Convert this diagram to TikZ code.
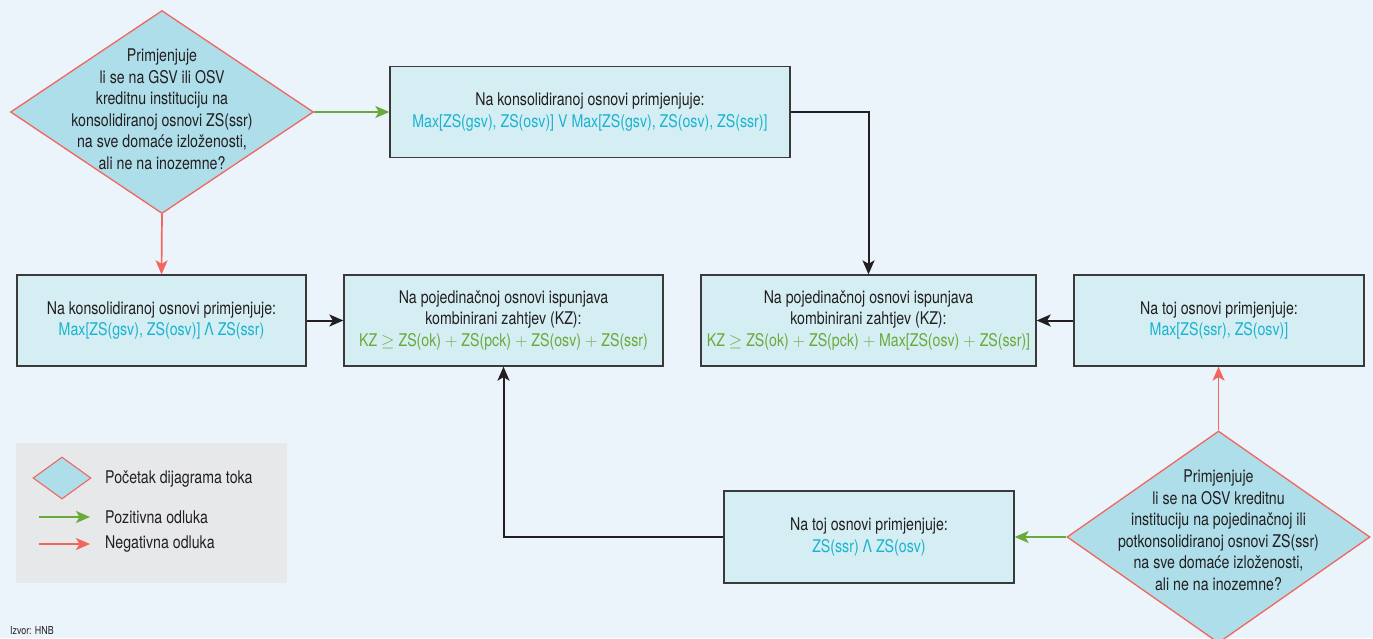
\documentclass[tikz,border=0pt]{standalone}
\usepackage{fontspec}
\setmainfont{TeX Gyre Heros}[FakeStretch=0.81]
\usetikzlibrary{shapes.geometric,arrows.meta}
\definecolor{bgcol}{HTML}{EBF3FB}
\definecolor{boxfill}{HTML}{D4EEF3}
\definecolor{diafill}{HTML}{AEDEEA}
\definecolor{redc}{HTML}{F2665E}
\definecolor{grn}{HTML}{6AAA3A}
\definecolor{cyn}{HTML}{1BB3CF}
\definecolor{blk}{HTML}{231F20}
\definecolor{boxline}{HTML}{3A3A3A}
\definecolor{leggray}{HTML}{E6E8EA}
\begin{document}
\begin{tikzpicture}[x=1pt,y=-1pt,
  every node/.style={font=\fontsize{17.5}{21.5}\selectfont, text=blk},
  box/.style={draw=boxline, line width=1.3pt, fill=boxfill, rectangle, minimum height=91pt, inner sep=0pt, align=center},
  dia/.style={draw=redc, line width=1.3pt, fill=diafill, diamond, inner sep=0pt},
  dtext/.style={align=center, inner sep=0pt},
  blackarr/.style={draw=blk, line width=2pt, -{Stealth[length=14pt,width=12pt,inset=3.5pt]}},
  posarr/.style={draw=grn, line width=1.7pt, -{Stealth[length=14pt,width=12pt,inset=3.5pt]}},
  negarr/.style={draw=redc, line width=1.7pt, -{Stealth[length=14pt,width=12pt,inset=3.5pt]}}
]
\fill[bgcol] (0,0) rectangle (1373,638);
\useasboundingbox (0,0) rectangle (1373,638);

% decision 1
\node[dia, minimum width=303pt, minimum height=203pt] (d1) at (162,112) {};
\node[dtext] (d1t) at (162,109) {Primjenjuje\\li se na GSV ili OSV\\kreditnu instituciju na\\konsolidiranoj osnovi ZS(ssr)\\na sve doma\'ce izlo\v{z}enosti,\\ali ne na inozemne?};

% boxes
\node[box, minimum width=400pt] (bA) at (590,112) {Na konsolidiranoj osnovi primjenjuje:\\\textcolor{cyn}{Max[ZS(gsv), ZS(osv)] V Max[ZS(gsv), ZS(osv), ZS(ssr)]}};
\node[box, minimum width=289pt] (bB) at (161.5,320.5) {Na konsolidiranoj osnovi primjenjuje:\\\textcolor{cyn}{Max[ZS(gsv), ZS(osv)] Λ ZS(ssr)}};
\node[box, minimum width=319pt] (bC) at (503.5,320.5) {Na pojedina\v{c}noj osnovi ispunjava\\kombinirani zahtjev (KZ):\\\textcolor{grn}{KZ $\geq$ ZS(ok) $+$ ZS(pck) $+$ ZS(osv) $+$ ZS(ssr)}};
\node[box, minimum width=335pt] (bD) at (868.5,320.5) {Na pojedina\v{c}noj osnovi ispunjava\\kombinirani zahtjev (KZ):\\\textcolor{grn}{KZ $\geq$ ZS(ok) $+$ ZS(pck) $+$ Max[ZS(osv) $+$ ZS(ssr)]}};
\node[box, minimum width=290pt] (bE) at (1219,320.5) {Na toj osnovi primjenjuje:\\\textcolor{cyn}{Max[ZS(ssr), ZS(osv)]}};
\node[box, minimum width=290pt, minimum height=92pt] (bF) at (869,537) {Na toj osnovi primjenjuje:\\\textcolor{cyn}{ZS(ssr) Λ ZS(osv)}};

% decision 2
\node[dia, minimum width=303pt, minimum height=212pt] (d2) at (1218.5,537) {};
\node[dtext] (d2t) at (1218.5,530) {Primjenjuje\\li se na OSV kreditnu\\instituciju na pojedina\v{c}noj ili\\potkonsolidiranoj osnovi ZS(ssr)\\na sve doma\'ce izlo\v{z}enosti,\\ali ne na inozemne?};

% connectors
\draw[posarr] (d1.east) -- (bA.west);
\draw[negarr] (d1.south) -- (bB.north);
\draw[blackarr] (bA.east) -| (bD.north);
\draw[blackarr] (bB.east) -- (bC.west);
\draw[blackarr] (bE.west) -- (bD.east);
\draw[negarr] (d2.north) -- (d2.north |- bE.south);
\draw[posarr] (d2.west) -- (bF.east);
\draw[blackarr] (bF.west) -| (bC.south);

% legend
\node[fill=leggray, minimum width=271pt, minimum height=140pt, inner sep=0pt] (leg) at (151.5,513) {};
\node[dia, minimum width=58pt, minimum height=42pt, line width=1.1pt] (legd) at (62,478) {};
\node[anchor=west, inner sep=0pt] (legt1) at (105,479) {Po\v{c}etak dijagrama toka};
\coordinate (lg1) at (39,517);
\coordinate (lg2) at (90,517);
\coordinate (lr1) at (39,544);
\coordinate (lr2) at (90,544);
\draw[posarr] (lg1) -- (lg2);
\draw[negarr] (lr1) -- (lr2);
\node[anchor=west, inner sep=0pt] (legt2) at (105,517) {Pozitivna odluka};
\node[anchor=west, inner sep=0pt] (legt3) at (105,544) {Negativna odluka};

% source
\node[anchor=base west, inner sep=0pt, font=\fontsize{11}{13}\selectfont] (src) at (10,634.5) {Izvor: HNB};
\end{tikzpicture}
\end{document}
